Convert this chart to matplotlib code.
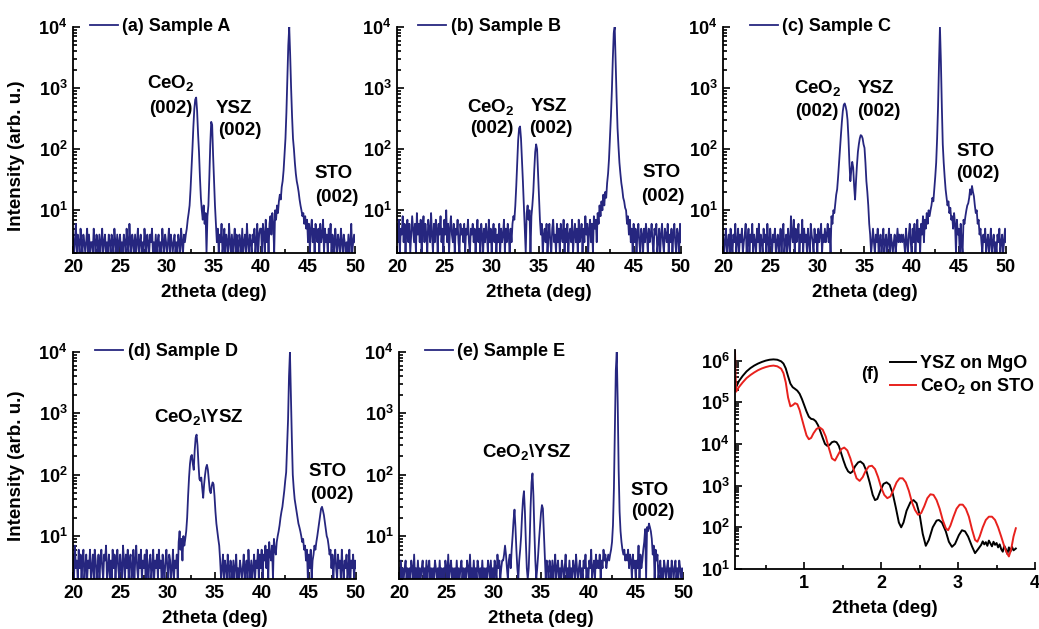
import numpy as np
import matplotlib
matplotlib.use("Agg")
import matplotlib.pyplot as plt
from matplotlib.ticker import LogLocator, MultipleLocator, NullFormatter

plt.rcParams['font.family'] = ['Liberation Sans', 'DejaVu Sans']
plt.rcParams['font.weight'] = 'bold'
plt.rcParams['axes.labelweight'] = 'bold'
plt.rcParams['mathtext.fontset'] = 'custom'
plt.rcParams['mathtext.bf'] = 'Liberation Sans:bold'
plt.rcParams['mathtext.rm'] = 'Liberation Sans:bold'
plt.rcParams['mathtext.default'] = 'bf'

# 2theta scan, 20..50 deg in 0.1 deg steps
twotheta = np.linspace(20, 50, 301)

# counts, one row per degree
sample_a = [
    4, 2, 3, 6, 2, 4, 3, 2, 5, 3,
    2, 4, 3, 2, 3, 5, 2, 4, 2, 3,
    3, 2, 5, 3, 2, 4, 3, 2, 4, 2,
    3, 5, 2, 3, 4, 2, 3, 2, 4, 3,
    2, 4, 3, 2, 5, 3, 2, 4, 2, 3,
    4, 2, 3, 2, 4, 3, 2, 5, 3, 2,
    6, 3, 2, 4, 3, 2, 4, 2, 3, 5,
    2, 3, 4, 2, 3, 2, 5, 3, 2, 4,
    3, 2, 4, 3, 5, 2, 3, 2, 4, 2,
    3, 4, 2, 3, 2, 5, 3, 2, 4, 3,
    2, 3, 5, 2, 4, 3, 2, 3, 4, 2,
    3, 2, 4, 3, 2, 5, 3, 2, 4, 3,
    4, 5, 7, 9, 12, 22, 45, 100, 230, 450,
    650, 700, 420, 180, 90, 35, 16, 10, 7, 12,
    6, 9, 2, 8, 12, 35, 120, 280, 250, 80,
    30, 12, 6, 3, 5, 2, 4, 3, 6, 2,
    3, 5, 2, 4, 3, 2, 6, 3, 2, 4,
    2, 3, 5, 2, 4, 3, 2, 4, 3, 2,
    5, 2, 3, 4, 2, 6, 3, 2, 4, 3,
    2, 4, 3, 5, 2, 3, 6, 2, 4, 5,
    5, 2, 6, 4, 2, 7, 3, 5, 2, 6,
    8, 4, 9, 6, 2, 10, 7, 12, 9, 14,
    18, 15, 24, 30, 45, 80, 150, 400, 1500, 5000,
    10000, 3500, 1000, 350, 150, 100, 60, 40, 30, 25,
    20, 15, 12, 10, 8, 9, 6, 8, 5, 7,
    3, 6, 2, 5, 7, 3, 5, 2, 6, 4,
    3, 5, 2, 6, 3, 4, 7, 2, 5, 3,
    4, 2, 5, 3, 6, 2, 4, 3, 2, 5,
    3, 2, 4, 3, 2, 5, 3, 2, 4, 3,
    2, 3, 2, 4, 2, 3, 6, 2, 3, 4,
    3]

sample_b = [
    6, 3, 7, 2, 5, 4, 8, 3, 6, 2,
    5, 7, 3, 6, 2, 4, 8, 5, 3, 6,
    2, 9, 4, 6, 3, 7, 2, 5, 8, 3,
    6, 4, 2, 7, 5, 3, 9, 4, 2, 6,
    3, 7, 5, 2, 6, 4, 8, 3, 5, 2,
    7, 4, 10, 3, 6, 2, 5, 8, 4, 3,
    6, 2, 5, 4, 7, 3, 2, 6, 4, 5,
    3, 6, 2, 5, 4, 7, 3, 2, 5, 4,
    6, 3, 5, 2, 4, 7, 3, 5, 2, 6,
    4, 2, 5, 3, 6, 4, 2, 7, 3, 5,
    2, 4, 6, 3, 5, 2, 4, 3, 6, 2,
    5, 3, 4, 7, 2, 5, 3, 6, 4, 2,
    5, 3, 6, 8, 7, 12, 25, 60, 140, 220,
    235, 150, 70, 30, 12, 5, 2, 9, 12, 7,
    10, 2, 8, 12, 20, 45, 90, 120, 100, 40,
    15, 7, 4, 6, 2, 4, 5, 3, 6, 2,
    4, 6, 3, 2, 5, 7, 3, 4, 2, 6,
    3, 5, 2, 6, 4, 3, 7, 2, 5, 3,
    6, 2, 4, 5, 3, 7, 2, 4, 6, 3,
    5, 2, 7, 3, 4, 6, 2, 5, 3, 8,
    4, 6, 2, 5, 7, 3, 6, 2, 8, 5,
    7, 3, 9, 6, 12, 8, 14, 10, 18, 12,
    20, 16, 28, 40, 70, 150, 350, 900, 3000, 8000,
    10000, 2500, 700, 220, 110, 60, 40, 28, 22, 16,
    14, 11, 10, 6, 8, 4, 7, 3, 5, 2,
    6, 3, 5, 2, 4, 6, 3, 2, 5, 4,
    2, 5, 3, 6, 4, 2, 5, 3, 4, 6,
    3, 2, 5, 4, 6, 2, 3, 5, 2, 4,
    6, 3, 2, 5, 4, 3, 6, 2, 4, 3,
    5, 2, 4, 6, 3, 2, 5, 4, 2, 6,
    3]

sample_c = [
    4, 2, 3, 5, 2, 3, 4, 2, 5, 3,
    2, 4, 3, 6, 2, 3, 5, 2, 4, 3,
    5, 2, 3, 4, 6, 2, 3, 5, 2, 4,
    3, 6, 2, 4, 3, 2, 5, 3, 6, 2,
    4, 3, 2, 5, 3, 4, 2, 6, 3, 2,
    5, 3, 2, 4, 3, 5, 2, 3, 4, 2,
    3, 5, 2, 4, 6, 2, 3, 4, 2, 5,
    3, 2, 8, 4, 3, 7, 2, 5, 3, 4,
    6, 2, 4, 3, 7, 2, 5, 3, 4, 2,
    5, 3, 2, 6, 4, 3, 2, 5, 3, 4,
    2, 5, 3, 4, 6, 2, 4, 3, 5, 3,
    4, 6, 3, 5, 2, 8, 6, 10, 9, 13,
    18, 22, 35, 60, 100, 170, 280, 420, 530, 560,
    500, 420, 300, 150, 60, 30, 45, 62, 50, 25,
    15, 30, 55, 90, 120, 150, 170, 165, 150, 120,
    105, 60, 30, 20, 12, 6, 4, 2, 3, 5,
    3, 2, 4, 3, 5, 2, 3, 4, 2, 3,
    5, 2, 3, 4, 2, 3, 5, 2, 4, 3,
    2, 3, 4, 2, 3, 5, 3, 4, 3, 4,
    3, 4, 3, 2, 5, 3, 2, 4, 6, 3,
    2, 5, 3, 6, 2, 4, 7, 3, 5, 2,
    6, 4, 8, 3, 7, 5, 9, 6, 10, 8,
    10, 12, 16, 14, 22, 35, 60, 150, 500, 2500,
    10000, 2800, 500, 120, 60, 35, 22, 16, 12, 14,
    9, 11, 7, 8, 5, 9, 6, 2, 7, 4,
    5, 2, 6, 3, 2, 7, 6, 8, 10, 12,
    13, 16, 22, 18, 25, 20, 17, 12, 9, 10,
    6, 7, 4, 5, 3, 2, 4, 3, 5, 2,
    3, 4, 2, 3, 5, 2, 3, 4, 2, 3,
    2, 4, 3, 5, 2, 3, 4, 2, 3, 5,
    3]

sample_d = [
    5, 2, 7, 3, 4, 2, 6, 3, 5, 2,
    4, 6, 2, 3, 5, 2, 4, 3, 6, 2,
    3, 5, 2, 6, 4, 2, 3, 5, 2, 4,
    6, 3, 2, 5, 4, 7, 2, 3, 5, 2,
    4, 2, 6, 3, 5, 2, 4, 6, 3, 2,
    5, 3, 2, 7, 4, 2, 5, 3, 6, 2,
    4, 5, 2, 3, 6, 2, 4, 7, 3, 2,
    5, 3, 6, 2, 4, 3, 5, 2, 6, 3,
    2, 4, 5, 2, 3, 6, 2, 4, 3, 5,
    2, 6, 3, 4, 2, 5, 3, 2, 4, 6,
    3, 2, 5, 4, 2, 3, 6, 2, 4, 3,
    5, 2, 8, 12, 6, 9, 4, 10, 7, 9,
    12, 20, 45, 90, 150, 200, 210, 150, 120, 250,
    400, 450, 300, 150, 85, 80, 90, 60, 42, 70,
    100, 130, 145, 120, 80, 55, 50, 65, 75, 70,
    45, 25, 16, 12, 9, 7, 4, 2, 3, 5,
    2, 4, 3, 2, 5, 3, 2, 4, 3, 2,
    4, 2, 3, 5, 2, 3, 2, 4, 3, 2,
    3, 5, 2, 3, 4, 2, 6, 3, 2, 4,
    2, 3, 5, 2, 4, 3, 6, 2, 5, 3,
    6, 2, 5, 4, 7, 3, 6, 2, 8, 5,
    4, 7, 2, 9, 6, 5, 8, 10, 12, 15,
    20, 25, 30, 40, 55, 80, 110, 300, 800, 4000,
    10000, 2000, 400, 100, 60, 40, 32, 25, 20, 16,
    14, 12, 10, 8, 9, 6, 7, 4, 6, 2,
    5, 3, 6, 2, 4, 5, 7, 6, 8, 10,
    13, 17, 22, 28, 30, 26, 22, 17, 13, 10,
    9, 7, 5, 6, 3, 5, 2, 4, 6, 3,
    2, 5, 3, 4, 2, 6, 3, 2, 4, 3,
    5, 2, 3, 6, 2, 4, 3, 5, 2, 4,
    3]

sample_e = [
    3, 2, 4, 2, 3, 2, 3, 4, 2, 3,
    2, 3, 2, 4, 3, 2, 5, 2, 3, 2,
    4, 2, 3, 2, 3, 4, 2, 3, 2, 4,
    2, 3, 4, 2, 3, 2, 3, 2, 4, 3,
    2, 3, 2, 4, 2, 3, 2, 3, 2, 4,
    3, 2, 5, 2, 3, 4, 2, 3, 2, 3,
    2, 4, 2, 3, 2, 3, 4, 2, 3, 2,
    3, 2, 4, 3, 2, 5, 2, 3, 2, 4,
    2, 3, 2, 4, 3, 2, 3, 2, 4, 2,
    3, 2, 3, 2, 4, 3, 2, 4, 2, 3,
    2, 4, 3, 2, 5, 3, 4, 2, 3, 4,
    4, 5, 7, 5, 3, 2, 4, 5, 3, 6,
    10, 18, 27, 14, 6, 3, 2, 4, 6, 10,
    22, 40, 54, 25, 8, 3, 2, 3, 8, 30,
    75, 105, 45, 12, 4, 2, 3, 5, 9, 15,
    24, 32, 28, 12, 5, 2, 4, 3, 2, 4,
    3, 2, 4, 2, 3, 5, 2, 3, 4, 2,
    3, 2, 4, 3, 2, 3, 5, 2, 3, 2,
    4, 2, 3, 2, 4, 3, 2, 5, 3, 2,
    3, 4, 2, 3, 2, 4, 3, 5, 2, 3,
    2, 4, 3, 6, 2, 3, 4, 2, 5, 3,
    4, 3, 5, 2, 4, 3, 6, 4, 5, 3,
    4, 5, 4, 5, 6, 8, 15, 60, 600, 5000,
    10000, 1500, 120, 25, 12, 8, 6, 5, 6, 4,
    5, 4, 6, 3, 5, 4, 2, 5, 3, 4,
    2, 4, 3, 7, 2, 5, 3, 4, 6, 8,
    13, 2, 14, 12, 16, 14, 12, 9, 5, 7,
    2, 6, 4, 5, 2, 3, 4, 2, 3, 2,
    4, 3, 2, 3, 4, 2, 3, 2, 4, 3,
    2, 3, 4, 2, 3, 2, 4, 3, 2, 3,
    2]

# XRR panel (f)
ysz_x = [0.10, 0.15, 0.20, 0.25, 0.30, 0.35, 0.40, 0.45, 0.50, 0.55,
         0.60, 0.65, 0.70, 0.73, 0.76, 0.79, 0.82, 0.85, 0.88, 0.91,
         0.94, 0.97, 1.00, 1.03, 1.06, 1.09, 1.12, 1.15, 1.18, 1.21,
         1.24, 1.27, 1.30, 1.33, 1.36, 1.39, 1.42, 1.45, 1.48, 1.51,
         1.54, 1.57, 1.60, 1.63, 1.66, 1.70, 1.73, 1.77, 1.81, 1.85,
         1.89, 1.92, 1.95, 1.99, 2.03, 2.07, 2.11, 2.15, 2.19, 2.23,
         2.26, 2.29, 2.33, 2.38, 2.42, 2.46, 2.50, 2.54, 2.58, 2.62,
         2.67, 2.72, 2.75, 2.79, 2.84, 2.88, 2.92, 2.96, 3.01, 3.05,
         3.09, 3.13, 3.18, 3.22, 3.26, 3.30, 3.32, 3.34, 3.36, 3.38,
         3.40, 3.42, 3.44, 3.46, 3.48, 3.50, 3.52, 3.54, 3.56, 3.58,
         3.60, 3.62, 3.64, 3.66, 3.68, 3.70, 3.72, 3.75]
ysz_y = [2.0e5, 3.2e5, 4.3e5, 5.5e5, 6.6e5, 7.6e5, 8.5e5, 9.3e5, 1.0e6, 1.05e6,
         1.07e6, 1.05e6, 9.6e5, 8.5e5, 6.5e5, 4.2e5, 2.8e5, 2.3e5, 2.1e5, 1.9e5,
         1.6e5, 1.2e5, 8.5e4, 6.0e4, 4.5e4, 4.0e4, 3.9e4, 3.5e4, 2.8e4, 2.0e4,
         1.4e4, 1.0e4, 9.0e3, 9.5e3, 1.1e4, 1.15e4, 1.1e4, 9.0e3, 6.0e3, 4.0e3,
         2.8e3, 2.2e3, 2.0e3, 2.2e3, 2.9e3, 3.6e3, 3.8e3, 3.3e3, 2.2e3, 1.2e3,
         6.0e2, 4.5e2, 4.8e2, 7.5e2, 1.1e3, 1.2e3, 1.05e3, 6.5e2, 3.0e2, 1.3e2,
         1.0e2, 1.3e2, 2.5e2, 4.0e2, 4.5e2, 3.8e2, 2.0e2, 7.0e1, 3.6e1, 5.0e1,
         1.0e2, 1.45e2, 1.5e2, 1.3e2, 8.0e1, 4.5e1, 3.4e1, 4.0e1, 6.5e1, 8.5e1,
         8.0e1, 6.0e1, 3.5e1, 2.4e1, 3.0e1, 3.8e1, 4.6e1, 3.9e1, 4.4e1, 3.6e1,
         4.8e1, 4.1e1, 3.5e1, 4.5e1, 3.8e1, 4.2e1, 3.3e1, 3.9e1, 3.0e1, 2.6e1,
         3.6e1, 3.0e1, 2.3e1, 3.3e1, 2.6e1, 3.4e1, 2.8e1, 3.1e1]

ceo2_x = [0.100, 0.105, 0.115, 0.15, 0.20, 0.25, 0.30, 0.35, 0.40, 0.45,
          0.50, 0.55, 0.60, 0.65, 0.70, 0.73, 0.76, 0.79, 0.82, 0.85,
          0.88, 0.91, 0.94, 0.97, 1.00, 1.03, 1.06, 1.09, 1.12, 1.16,
          1.20, 1.24, 1.28, 1.32, 1.36, 1.40, 1.44, 1.48, 1.52, 1.56,
          1.60, 1.64, 1.68, 1.72, 1.76, 1.80, 1.84, 1.88, 1.92, 1.96,
          2.00, 2.04, 2.08, 2.12, 2.16, 2.20, 2.24, 2.28, 2.32, 2.36,
          2.40, 2.44, 2.48, 2.52, 2.56, 2.60, 2.64, 2.68, 2.72, 2.76,
          2.80, 2.84, 2.87, 2.90, 2.94, 2.98, 3.02, 3.06, 3.10, 3.14,
          3.18, 3.22, 3.25, 3.28, 3.32, 3.36, 3.40, 3.44, 3.48, 3.52,
          3.56, 3.60, 3.63, 3.66, 3.69, 3.72, 3.75]
ceo2_y = [1.8e6, 6.0e5, 1.8e5, 2.3e5, 3.0e5, 3.8e5, 4.5e5, 5.2e5, 5.9e5, 6.5e5,
          7.0e5, 7.4e5, 7.6e5, 7.3e5, 6.4e5, 5.0e5, 3.0e5, 1.3e5, 8.0e4, 8.5e4,
          9.5e4, 9.0e4, 6.5e4, 4.0e4, 2.5e4, 1.6e4, 1.3e4, 1.4e4, 1.8e4, 2.3e4,
          2.5e4, 2.2e4, 1.5e4, 8.0e3, 4.5e3, 4.0e3, 5.5e3, 7.5e3, 8.2e3, 7.0e3,
          4.5e3, 2.5e3, 1.5e3, 1.3e3, 1.6e3, 2.3e3, 2.9e3, 3.0e3, 2.5e3, 1.6e3,
          9.0e2, 6.0e2, 5.0e2, 5.5e2, 8.0e2, 1.2e3, 1.5e3, 1.5e3, 1.2e3, 7.5e2,
          4.0e2, 2.6e2, 2.0e2, 2.2e2, 3.2e2, 5.0e2, 6.2e2, 6.0e2, 4.5e2, 2.8e2,
          1.5e2, 9.5e1, 8.5e1, 1.1e2, 1.8e2, 2.8e2, 3.5e2, 3.5e2, 2.8e2, 1.8e2,
          9.0e1, 5.0e1, 4.5e1, 6.0e1, 1.0e2, 1.5e2, 1.8e2, 1.8e2, 1.5e2, 1.0e2,
          6.0e1, 3.5e1, 2.5e1, 2.0e1, 3.0e1, 6.0e1, 9.5e1]

labels = ['(a) Sample A', '(b) Sample B', '(c) Sample C', '(d) Sample D', '(e) Sample E']
samples = [sample_a, sample_b, sample_c, sample_d, sample_e]
for s in samples:
    assert len(s) == 301

navy = '#26267f'
FS = 13

fig = plt.figure(figsize=(10.39, 6.29), dpi=100)

boxes = [
    [0.0703, 0.5978, 0.2714, 0.3593],
    [0.3821, 0.5978, 0.2733, 0.3593],
    [0.6959, 0.5978, 0.2723, 0.3593],
    [0.0703, 0.0795, 0.2723, 0.3609],
    [0.3840, 0.0795, 0.2734, 0.3609],
]
leg_x = [0.06, 0.074, 0.095, 0.078, 0.09]

# peak labels: (text, x, y) per panel
notes = [
    [('CeO$_2$', 30.4, 1200), ('(002)', 30.4, 470), ('YSZ', 37.1, 460),
     ('(002)', 37.7, 200), ('STO', 47.7, 40), ('(002)', 48.1, 16)],
    [('CeO$_2$', 29.9, 490), ('(002)', 30.0, 220), ('YSZ', 36.1, 500),
     ('(002)', 36.3, 220), ('STO', 47.9, 41), ('(002)', 48.05, 17)],
    [('CeO$_2$', 30.1, 1000), ('(002)', 29.9, 410), ('YSZ', 36.2, 1000),
     ('(002)', 36.5, 410), ('STO', 46.8, 91), ('(002)', 47.0, 40)],
    [('CeO$_2$\\YSZ', 33.3, 870), ('STO', 47.0, 112), ('(002)', 47.4, 47)],
    [('CeO$_2$\\YSZ', 33.5, 234), ('STO', 46.5, 56), ('(002)', 46.8, 25)],
]


def style(ax):
    for side in ['top', 'right']:
        ax.spines[side].set_visible(False)
    for side in ['left', 'bottom']:
        ax.spines[side].set_linewidth(1.3)
    ax.tick_params(which='both', direction='in', top=False, right=False,
                   labelsize=FS, width=1.2)
    ax.tick_params(which='major', length=5, pad=4)
    ax.tick_params(which='minor', length=3)


for i in range(5):
    ax = fig.add_axes(boxes[i])
    ax.plot(twotheta, samples[i], color=navy, lw=1.3, label=labels[i])
    ax.set_yscale('log')
    ax.set_xlim(20, 50)
    ax.set_ylim(2, 1e4)
    ax.xaxis.set_major_locator(MultipleLocator(5))
    ax.xaxis.set_minor_locator(MultipleLocator(2.5))
    ax.yaxis.set_minor_locator(LogLocator(base=10, subs=np.arange(2, 10)))
    ax.yaxis.set_minor_formatter(NullFormatter())
    style(ax)
    ax.set_xlabel('2theta (deg)', labelpad=6, fontsize=FS + 0.5)
    if i in (0, 3):
        ax.set_ylabel('Intensity (arb. u.)', fontsize=FS + 0.5)
        ax.yaxis.set_label_coords(-0.17, 0.43 if i == 0 else 0.5)
    ax.legend(loc='center left', bbox_to_anchor=(leg_x[i], 1.0), frameon=False,
              handlelength=1.55, handletextpad=0.25, borderpad=0, borderaxespad=0,
              prop={'size': FS, 'weight': 'bold'})
    for txt, x, y in notes[i]:
        ax.text(x, y, txt, ha='center', va='center', fontsize=FS + 0.5, fontweight='bold')

# panel (f)
axf = fig.add_axes([0.7074, 0.0954, 0.2888, 0.3482])
axf.plot(ysz_x, ysz_y, color='black', lw=1.4, label='YSZ on MgO')
axf.plot(ceo2_x, ceo2_y, color='#e8211d', lw=1.4, label='CeO$_2$ on STO')
axf.set_yscale('log')
axf.set_xlim(0.1, 4)
axf.set_ylim(10, 1.8e6)
axf.xaxis.set_major_locator(MultipleLocator(1))
axf.xaxis.set_minor_locator(MultipleLocator(0.5))
axf.yaxis.set_minor_locator(LogLocator(base=10, subs=np.arange(2, 10)))
axf.yaxis.set_minor_formatter(NullFormatter())
style(axf)
axf.set_xlabel('2theta (deg)', labelpad=6, fontsize=FS + 0.5)
axf.legend(loc='upper left', bbox_to_anchor=(0.517, 0.975), frameon=False,
           handlelength=1.45, handletextpad=0.2, borderpad=0, borderaxespad=0,
           labelspacing=0.2, prop={'size': FS, 'weight': 'bold'})
axf.text(0.45, 0.89, '(f)', transform=axf.transAxes, ha='center', va='center',
         fontsize=FS, fontweight='bold')

fig.savefig('out.png', dpi=100)
